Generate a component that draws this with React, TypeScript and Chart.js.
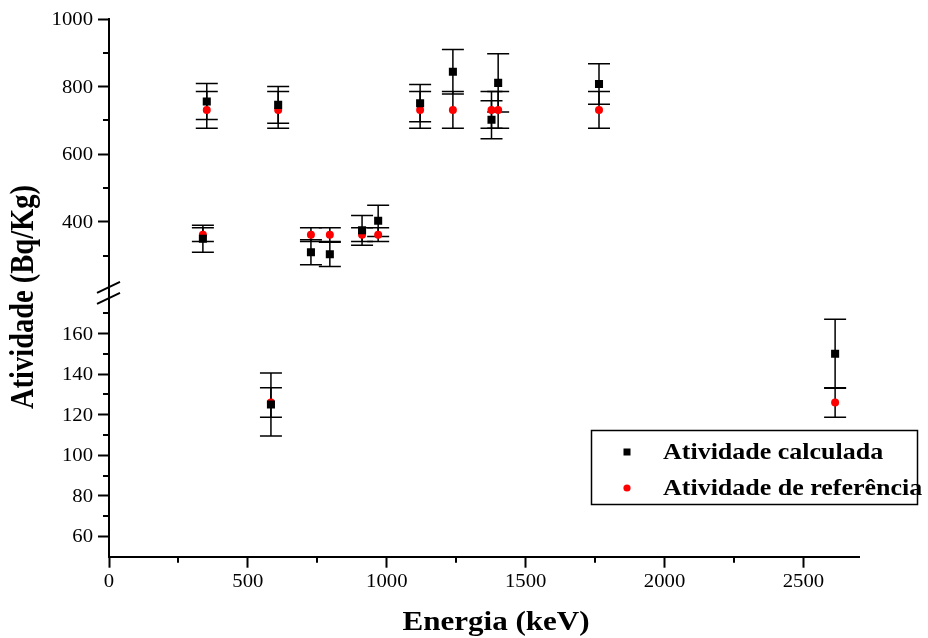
import React, { useEffect, useRef } from 'react';
import { Chart, registerables } from 'chart.js';

Chart.register(...registerables);

// ---- Axis ticks ----
const X_MAJOR = [0, 500, 1000, 1500, 2000, 2500];
const X_MINOR = [250, 750, 1250, 1750, 2250];
const HIGH_MAJOR = [400, 600, 800, 1000];
const HIGH_MINOR = [300, 500, 700, 900];
const LOW_MAJOR = [60, 80, 100, 120, 140, 160];
const LOW_MINOR = [70, 90, 110, 130, 150, 170];

// ---- Data: upper segment of the broken axis ----
const ENERGY_HIGH = [352, 609, 1120, 1238, 1377, 1401, 1764, 338, 727, 795, 911, 969];
const CALC_HIGH = [756, 746, 751, 844, 702, 811, 808, 350, 310, 304, 375, 403];
const CALC_HIGH_ERR = [53, 54, 55, 66, 56, 86, 60, 40, 37, 36, 44, 46];
const REF_HIGH = [731, 731, 731, 731, 731, 731, 731, 362, 362, 362, 362, 362];
const REF_HIGH_ERR = [54.5, 54.5, 54.5, 54.5, 54.5, 54.5, 54.5, 20.5, 20.5, 20.5, 20.5, 20.5];

// ---- Data: lower segment ----
const ENERGY_LOW = [583, 2614];
const CALC_LOW = [125, 150];
const CALC_LOW_ERR = [15.5, 17];
const REF_LOW = [126, 126];
const REF_LOW_ERR = [7.3, 7.3];

const LEGEND_LABELS = ['Atividade calculada', 'Atividade de referência'];
const X_TITLE = 'Energia (keV)';
const Y_TITLE = 'Atividade (Bq/Kg)';

const SERIF = "'Liberation Serif', 'Times New Roman', serif";
const TX = 1.15; // horizontal stretch of the text in the reference

function txt(ctx: CanvasRenderingContext2D, s: string, x: number, y: number, font: string,
  align: CanvasTextAlign, baseline: CanvasTextBaseline, rot = 0) {
  ctx.save();
  ctx.translate(x, y);
  ctx.scale(TX, 1);
  if (rot) ctx.rotate(rot);
  ctx.font = font;
  ctx.textAlign = align;
  ctx.textBaseline = baseline;
  ctx.fillStyle = '#000';
  ctx.fillText(s, 0, 0);
  ctx.restore();
}

const pts = (xs: number[], ys: number[]) => xs.map((x, i) => ({ x, y: ys[i] }));

const errorBars = {
  id: 'errorBars',
  beforeDatasetsDraw(chart: any) {
    const ctx = chart.ctx as CanvasRenderingContext2D;
    ctx.save();
    ctx.strokeStyle = '#000';
    ctx.lineWidth = 1.5;
    chart.data.datasets.forEach((ds: any, di: number) => {
      const meta = chart.getDatasetMeta(di);
      const ys = chart.scales[ds.yAxisID];
      ds.data.forEach((p: any, i: number) => {
        const el = meta.data[i];
        if (!el) return;
        const x = el.x;
        const t = ys.getPixelForValue(p.y + ds.errors[i]);
        const b = ys.getPixelForValue(p.y - ds.errors[i]);
        ctx.beginPath();
        ctx.moveTo(x, t); ctx.lineTo(x, b);
        ctx.moveTo(x - 11, t); ctx.lineTo(x + 11, t);
        ctx.moveTo(x - 11, b); ctx.lineTo(x + 11, b);
        ctx.stroke();
      });
    });
    ctx.restore();
  },
};

const decor = {
  id: 'decor',
  afterDraw(chart: any) {
    const ctx = chart.ctx as CanvasRenderingContext2D;
    const { x, yHigh, yLow, yGap } = chart.scales;
    const area = chart.chartArea;
    const left = area.left;
    const bottom = area.bottom;
    ctx.save();
    ctx.strokeStyle = '#000';
    ctx.lineWidth = 2;
    // minor ticks
    ctx.beginPath();
    X_MINOR.forEach((v) => {
      const px = Math.round(x.getPixelForValue(v));
      ctx.moveTo(px, bottom); ctx.lineTo(px, bottom + 6);
    });
    HIGH_MINOR.forEach((v) => {
      const py = Math.round(yHigh.getPixelForValue(v));
      ctx.moveTo(left, py); ctx.lineTo(left - 6, py);
    });
    LOW_MINOR.forEach((v) => {
      const py = Math.round(yLow.getPixelForValue(v));
      ctx.moveTo(left, py); ctx.lineTo(left - 6, py);
    });
    ctx.stroke();
    // break marks
    const gc = (yGap.top + yGap.bottom) / 2;
    ctx.beginPath();
    [-5.5, 5.5].forEach((d) => {
      ctx.moveTo(left - 12, gc + d + 5.5);
      ctx.lineTo(left + 11, gc + d - 5.5);
    });
    ctx.stroke();

    // tick labels
    const tickFont = `18px ${SERIF}`;
    X_MAJOR.forEach((v) => {
      txt(ctx, String(v), x.getPixelForValue(v), bottom + 30, tickFont, 'center', 'alphabetic');
    });
    HIGH_MAJOR.forEach((v) => {
      txt(ctx, String(v), left - 16, yHigh.getPixelForValue(v) + 6, tickFont, 'right', 'alphabetic');
    });
    LOW_MAJOR.forEach((v) => {
      txt(ctx, String(v), left - 16, yLow.getPixelForValue(v) + 6, tickFont, 'right', 'alphabetic');
    });

    // axis titles
    txt(ctx, X_TITLE, (area.left + area.right) / 2 + 12, 630, `bold 27px ${SERIF}`, 'center', 'alphabetic');
    txt(ctx, Y_TITLE, 33, 297, `bold 28.5px ${SERIF}`, 'center', 'alphabetic', -Math.PI / 2);

    // legend
    ctx.lineWidth = 1.5;
    ctx.strokeRect(591.5, 430.5, 326, 74);
    ctx.fillStyle = '#000';
    ctx.fillRect(623.5, 448.5, 7, 7);
    ctx.fillStyle = '#ff0000';
    ctx.beginPath();
    ctx.arc(627, 488, 3.6, 0, Math.PI * 2);
    ctx.fill();
    const lf = `bold 22.6px ${SERIF}`;
    txt(ctx, LEGEND_LABELS[0], 663, 459, lf, 'left', 'alphabetic');
    txt(ctx, LEGEND_LABELS[1], 663, 495, lf, 'left', 'alphabetic');
    ctx.restore();
  },
};

const tickGrid = {
  display: true,
  drawOnChartArea: false,
  drawTicks: true,
  tickLength: 11,
  tickWidth: 2,
  tickColor: '#000',
};
const border = { display: true, color: '#000', width: 2 };

export default function App() {
  const ref = useRef<HTMLCanvasElement>(null);
  useEffect(() => {
    if (!ref.current) return;
    const chart = new Chart(ref.current, {
      type: 'scatter',
      data: {
        datasets: [
          {
            label: LEGEND_LABELS[0],
            yAxisID: 'yHigh',
            data: pts(ENERGY_HIGH, CALC_HIGH),
            errors: CALC_HIGH_ERR,
            pointStyle: 'rect',
            pointRadius: 5.7,
            pointBorderWidth: 0,
            backgroundColor: '#000',
            borderColor: '#000',
          } as any,
          {
            label: LEGEND_LABELS[0],
            yAxisID: 'yLow',
            data: pts(ENERGY_LOW, CALC_LOW),
            errors: CALC_LOW_ERR,
            pointStyle: 'rect',
            pointRadius: 5.7,
            pointBorderWidth: 0,
            backgroundColor: '#000',
            borderColor: '#000',
          } as any,
          {
            label: LEGEND_LABELS[1],
            yAxisID: 'yHigh',
            data: pts(ENERGY_HIGH, REF_HIGH),
            errors: REF_HIGH_ERR,
            pointStyle: 'circle',
            pointRadius: 4,
            pointBorderWidth: 0,
            backgroundColor: '#ff0000',
            borderColor: '#ff0000',
          } as any,
          {
            label: LEGEND_LABELS[1],
            yAxisID: 'yLow',
            data: pts(ENERGY_LOW, REF_LOW),
            errors: REF_LOW_ERR,
            pointStyle: 'circle',
            pointRadius: 4,
            pointBorderWidth: 0,
            backgroundColor: '#ff0000',
            borderColor: '#ff0000',
          } as any,
        ],
      },
      options: {
        responsive: false,
        animation: false,
        devicePixelRatio: 1,
        layout: { padding: { left: 98, right: 69, top: 19, bottom: 70.3 } },
        plugins: { legend: { display: false }, tooltip: { enabled: false } },
        scales: {
          x: {
            type: 'linear',
            position: 'bottom',
            min: 0,
            max: 2700,
            grid: tickGrid,
            border,
            ticks: { display: false },
            afterBuildTicks: (s: any) => { s.ticks = X_MAJOR.map((value) => ({ value })); },
          },
          yLow: {
            type: 'linear',
            position: 'left',
            stack: 'y',
            stackWeight: 253.4,
            min: 50,
            max: 175,
            grid: tickGrid,
            border,
            ticks: { display: false },
            afterBuildTicks: (s: any) => { s.ticks = LOW_MAJOR.map((value) => ({ value })); },
          },
          yGap: {
            type: 'linear',
            position: 'left',
            stack: 'y',
            stackWeight: 20.4,
            min: 0,
            max: 1,
            grid: tickGrid,
            border,
            ticks: { display: false },
            afterBuildTicks: (s: any) => { s.ticks = []; },
          },
          yHigh: {
            type: 'linear',
            position: 'left',
            stack: 'y',
            stackWeight: 263.5,
            min: 220,
            max: 1000,
            grid: tickGrid,
            border,
            ticks: { display: false },
            afterBuildTicks: (s: any) => { s.ticks = HIGH_MAJOR.map((value) => ({ value })); },
          },
        } as any,
      },
      plugins: [errorBars, decor],
    });
    return () => chart.destroy();
  }, []);
  return (
    <div style={{ position: 'absolute', left: 0, top: 0, width: 928, height: 638, background: '#fff' }}>
      <canvas ref={ref} width={928} height={638} />
    </div>
  );
}
